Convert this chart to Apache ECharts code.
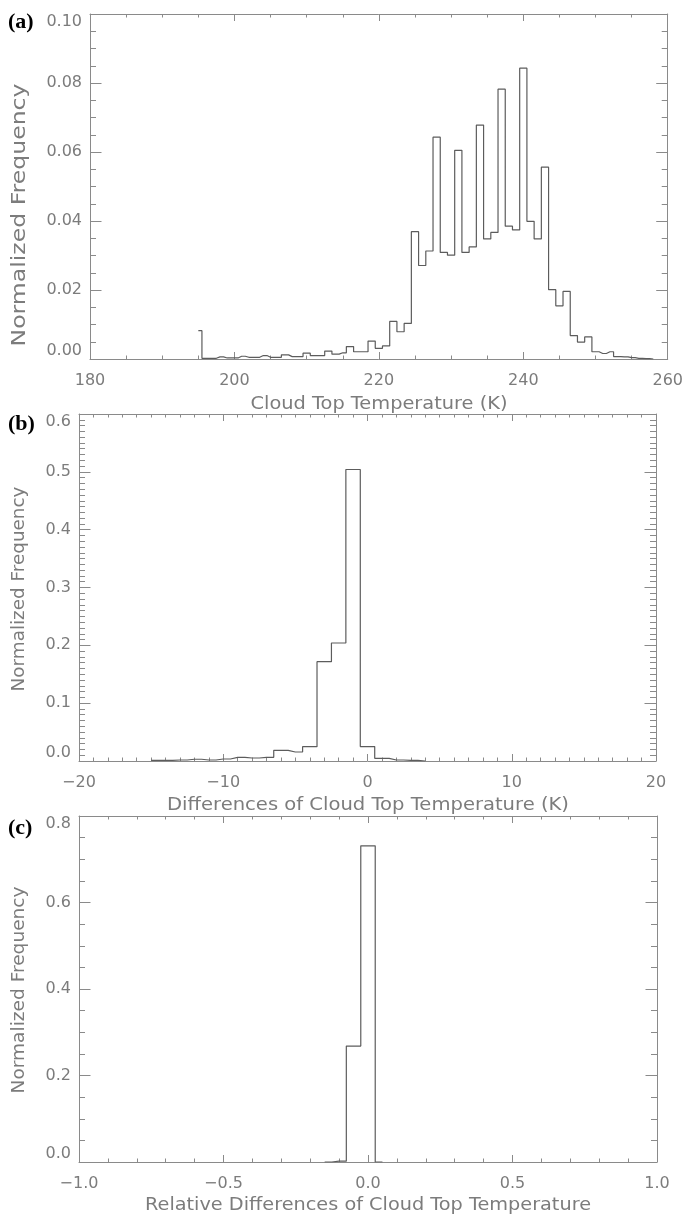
<!DOCTYPE html>
<html>
<head>
<meta charset="utf-8">
<script src="https://cdn.jsdelivr.net/npm/echarts@6/dist/echarts.min.js"></script>
<style>
  html, body { margin: 0; padding: 0; background: #ffffff; }
  #chart { width: 686px; height: 1219px; }
</style>
</head>
<body>
<div id="chart"></div>
<script>
// (a) Cloud top temperature, 1 K bins centred on whole kelvins
const ctTemps = [195,196,197,198,199,200,201,202,203,204,205,206,207,208,209,210,
  211,212,213,214,215,216,217,218,219,220,221,222,223,224,225,226,227,228,229,230,
  231,232,233,234,235,236,237,238,239,240,241,242,243,244,245,246,247,248,249,250,
  251,252,253,254,255,256,257,258];
const ctFreq = [0.0082,0.0002,0.0002,0.0006,0.0003,0.0003,0.0008,0.0005,0.0005,0.0010,
  0.0005,0.0005,0.0012,0.0007,0.0007,0.0017,0.0010,0.0010,0.0023,0.0014,0.0018,0.0036,
  0.0021,0.0021,0.0052,0.0031,0.0038,0.0109,0.0079,0.0103,0.0369,0.0271,0.0313,0.0643,
  0.0309,0.0301,0.0605,0.0309,0.0325,0.0678,0.0348,0.0367,0.0782,0.0385,0.0374,0.0843,
  0.0399,0.0348,0.0556,0.0201,0.0154,0.0196,0.0068,0.0049,0.0064,0.0021,0.0016,0.0021,
  0.0007,0.0006,0.0004,0.0002,0.0001,0.0000];

// (b) Differences of cloud top temperature, 1 K bins
const diffBins = [-15,-14,-13,-12,-11,-10,-9,-8,-7,-6,-5,-4,-3,-2,-1,0,1,2,3,4];
const diffFreq = [0.0010,0.0010,0.0017,0.0030,0.0017,0.0035,0.0063,0.0052,0.0063,0.0184,
  0.0156,0.0248,0.1718,0.2040,0.5040,0.0250,0.0046,0.0017,0.0012,0.0000];

// (c) Relative differences, 0.05 bins
const relBins = [-0.15,-0.1,-0.05,0,0.05];
const relFreq = [0,0.002,0.268,0.731,0];

// Axis ranges: [min, max, interval, minor splits]
const xRangeA = [180, 260, 20, 4];
const yRangeA = [0, 0.10, 0.02, 4];
const xRangeB = [-20, 20, 10, 10];
const yRangeB = [0, 0.6, 0.1, 10];
const xRangeC = [-1, 1, 0.5, 5];
const yRangeC = [0, 0.8, 0.2, 4];

const xTitles = ['Cloud Top Temperature (K)',
                 'Differences of Cloud Top Temperature (K)',
                 'Relative Differences of Cloud Top Temperature'];
const yTitle = 'Normalized Frequency';
const panelTags = ['(a)', '(b)', '(c)'];

const GREY_TEXT = '#7c7c7c';
const GREY_AXIS = '#8a8a8a';
const HIST = '#5c5c5c';
const LABEL_FONT = 'DejaVu Sans';

const grids = [
  { left: 90, top: 14, width: 578, height: 345 },
  { left: 79, top: 414, width: 577, height: 347 },
  { left: 79, top: 816, width: 578, height: 346 }
];

const minus = s => s.replace('-', '\u2212');
const fmtA_x = v => String(v);
const fmtA_y = v => v.toFixed(2);
const fmtB_x = v => minus(String(v));
const fmtB_y = v => v.toFixed(1);
const fmtC_x = v => minus(v.toFixed(1));
const fmtC_y = v => v.toFixed(1);

function xAxes(gi, r, fmt) {
  const common = {
    gridIndex: gi, type: 'value', min: r[0], max: r[1], interval: r[2],
    axisLine: { show: true, onZero: false, lineStyle: { color: GREY_AXIS, width: 1 } },
    axisTick: { show: true, inside: true, length: 7, lineStyle: { color: GREY_AXIS, width: 1 } },
    minorTick: { show: true, splitNumber: r[3], length: 3.5, lineStyle: { color: GREY_AXIS, width: 1 } },
    splitLine: { show: false }
  };
  return [
    Object.assign({}, common, {
      position: 'bottom',
      axisLabel: { show: true, margin: 14, formatter: fmt, color: GREY_TEXT,
                   fontSize: 16, fontFamily: LABEL_FONT }
    }),
    Object.assign({}, common, { position: 'top', axisLabel: { show: false } })
  ];
}

function yAxes(gi, r, fmt) {
  const common = {
    gridIndex: gi, type: 'value', min: r[0], max: r[1], interval: r[2],
    axisLine: { show: true, onZero: false, lineStyle: { color: GREY_AXIS, width: 1 } },
    axisTick: { show: true, inside: true, length: 11.5, lineStyle: { color: GREY_AXIS, width: 1 } },
    minorTick: { show: true, splitNumber: r[3], length: 6, lineStyle: { color: GREY_AXIS, width: 1 } },
    splitLine: { show: false }
  };
  return [
    Object.assign({}, common, {
      position: 'left',
      axisLabel: { show: true, margin: 8, formatter: fmt, color: GREY_TEXT,
                   fontSize: 16, fontFamily: LABEL_FONT,
                   verticalAlignMinLabel: 'bottom', verticalAlignMaxLabel: 'top' }
    }),
    Object.assign({}, common, { position: 'right', axisLabel: { show: false } })
  ];
}

function pairs(xs, ys) { return xs.map((x, i) => [x, ys[i]]); }

function histSeries(gi, xs, ys) {
  return {
    type: 'line', xAxisIndex: gi * 2, yAxisIndex: gi * 2,
    data: pairs(xs, ys), step: 'middle',
    symbol: 'none', showSymbol: false, silent: true,
    lineStyle: { color: HIST, width: 1.2 }
  };
}

// Stretch titles horizontally to the wide plotting-font look
const measureCtx = document.createElement('canvas').getContext('2d');
function textWidth(text, size) {
  measureCtx.font = size + 'px "' + LABEL_FONT + '"';
  return measureCtx.measureText(text).width;
}
function title(text, x, y, span, size, rotate) {
  return {
    type: 'text', x: x, y: y, rotation: rotate ? Math.PI / 2 : 0,
    scaleX: span / textWidth(text, size), silent: true,
    style: { text: text, fontSize: size, fontFamily: LABEL_FONT, fill: GREY_TEXT,
             align: 'center', verticalAlign: 'middle' }
  };
}
function tag(text, x, y) {
  return {
    type: 'text', x: x, y: y, silent: true,
    style: { text: text, fontSize: 22, fontWeight: 'bold', fontFamily: 'Liberation Serif',
             fill: '#000000', align: 'left', verticalAlign: 'middle' }
  };
}

const chart = echarts.init(document.getElementById('chart'), null, { renderer: 'canvas' });
chart.setOption({
  animation: false,
  backgroundColor: '#ffffff',
  grid: grids,
  xAxis: [].concat(xAxes(0, xRangeA, fmtA_x), xAxes(1, xRangeB, fmtB_x), xAxes(2, xRangeC, fmtC_x)),
  yAxis: [].concat(yAxes(0, yRangeA, fmtA_y), yAxes(1, yRangeB, fmtB_y), yAxes(2, yRangeC, fmtC_y)),
  series: [
    histSeries(0, ctTemps, ctFreq),
    histSeries(1, diffBins, diffFreq),
    histSeries(2, relBins, relFreq)
  ],
  graphic: [
    title(xTitles[0], 379, 405, 257, 17, false),
    title(xTitles[1], 368, 806, 402, 17, false),
    title(xTitles[2], 368, 1206, 446, 17, false),
    title(yTitle, 20, 215, 263, 19, true),
    title(yTitle, 20, 589, 205, 17, true),
    title(yTitle, 20, 990, 207, 17, true),
    tag(panelTags[0], 8, 22),
    tag(panelTags[1], 8, 424),
    tag(panelTags[2], 8, 828)
  ]
});
</script>
</body>
</html>
